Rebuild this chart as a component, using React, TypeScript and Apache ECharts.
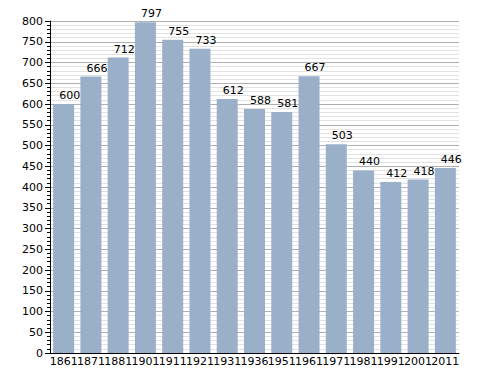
import React, { useEffect, useRef } from "react";
import * as echarts from "echarts";

const years = ["1861", "1871", "1881", "1901", "1911", "1921", "1931", "1936", "1951", "1961", "1971", "1981", "1991", "2001", "2011"];
const population = [600, 666, 712, 797, 755, 733, 612, 588, 581, 667, 503, 440, 412, 418, 446];

export default function App() {
  const ref = useRef<HTMLDivElement>(null);
  useEffect(() => {
    const chart = echarts.init(ref.current!, null, { renderer: "svg" });
    chart.setOption({
      animation: false,
      textStyle: { fontFamily: "DejaVu Sans" },
      grid: { left: 50, right: 29, top: 21, bottom: 20, containLabel: false },
      xAxis: {
        type: "category",
        data: years,
        axisLine: { show: true, lineStyle: { color: "#000", width: 1 } },
        axisTick: { show: false },
        axisLabel: { interval: 0, color: "#000", fontSize: 11, margin: 3, fontFamily: "DejaVu Sans" },
        splitLine: { show: false },
      },
      yAxis: {
        type: "value",
        min: 0,
        max: 800,
        interval: 50,
        axisLine: { show: true, lineStyle: { color: "#000", width: 1 } },
        axisTick: { show: true, length: 5, lineStyle: { color: "#000" } },
        minorTick: { show: true, splitNumber: 5, length: 3, lineStyle: { color: "#000" } },
        axisLabel: { color: "#000", fontSize: 11, margin: 7, fontFamily: "DejaVu Sans" },
        splitLine: { show: true, lineStyle: { color: "#b0b0b0", width: 1 } },
        minorSplitLine: { show: true, lineStyle: { color: "#e2e2e2", width: 1 } },
      },
      series: [
        {
          type: "bar",
          data: population,
          barWidth: 21,
          itemStyle: { color: "#9ab0c9" },
          label: { show: true, position: "top", distance: 3, offset: [6, 0], color: "#000", fontSize: 11, fontFamily: "DejaVu Sans" },
        },
      ],
    });
    return () => chart.dispose();
  }, []);
  return <div ref={ref} style={{ width: 488, height: 373, position: "absolute", left: 0, top: 0 }} />;
}
